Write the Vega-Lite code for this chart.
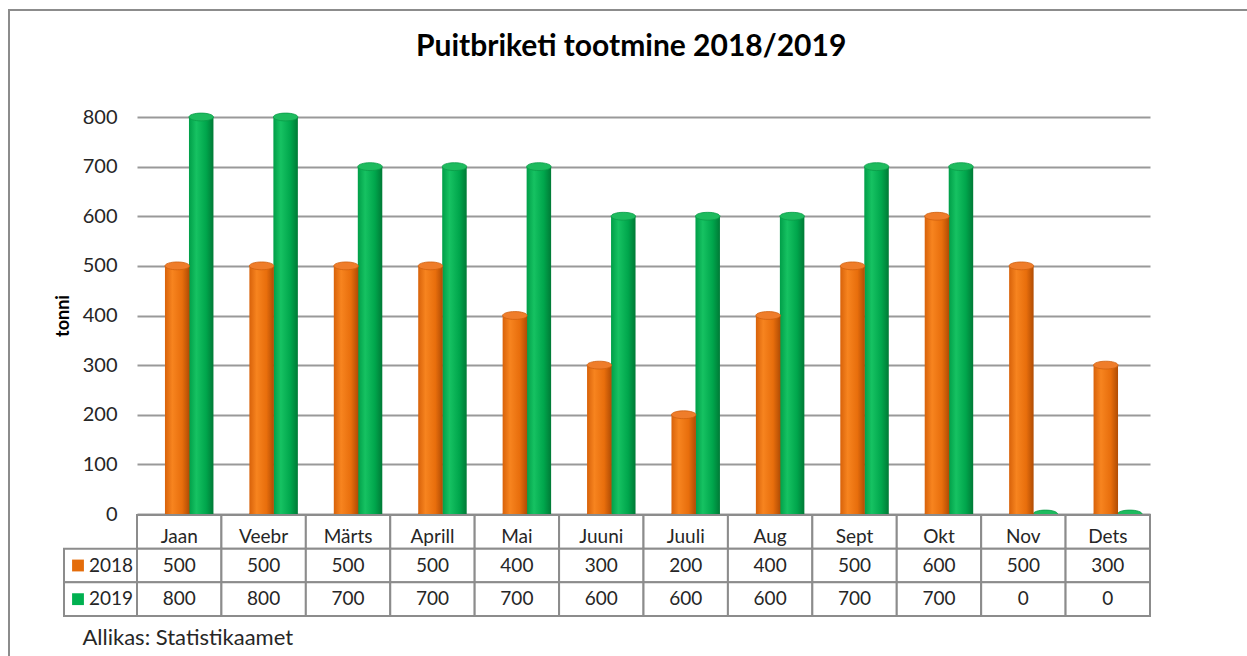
{
  "$schema": "https://vega.github.io/schema/vega-lite/v6.json",
  "width": 1300,
  "height": 700,
  "autosize": "none",
  "padding": {"left": 9, "top": 10, "right": -62, "bottom": -54},
  "config": {"view": {"stroke": "#8c8c8c", "strokeWidth": 2}, "background": "white"},
  "title": {"text": "Puitbriketi tootmine 2018/2019", "font": "Lato", "fontSize": 30, "fontWeight": "bold", "color": "#000000", "anchor": "start", "frame": "group", "offset": -76, "baseline": "alphabetic", "dx": 407},
  "data": {"values": [
    {"month": "Jaan", "year": "2018", "value": 500},
    {"month": "Veebr", "year": "2018", "value": 500},
    {"month": "Märts", "year": "2018", "value": 500},
    {"month": "Aprill", "year": "2018", "value": 500},
    {"month": "Mai", "year": "2018", "value": 400},
    {"month": "Juuni", "year": "2018", "value": 300},
    {"month": "Juuli", "year": "2018", "value": 200},
    {"month": "Aug", "year": "2018", "value": 400},
    {"month": "Sept", "year": "2018", "value": 500},
    {"month": "Okt", "year": "2018", "value": 600},
    {"month": "Nov", "year": "2018", "value": 500},
    {"month": "Dets", "year": "2018", "value": 300},
    {"month": "Jaan", "year": "2019", "value": 800},
    {"month": "Veebr", "year": "2019", "value": 800},
    {"month": "Märts", "year": "2019", "value": 700},
    {"month": "Aprill", "year": "2019", "value": 700},
    {"month": "Mai", "year": "2019", "value": 700},
    {"month": "Juuni", "year": "2019", "value": 600},
    {"month": "Juuli", "year": "2019", "value": 600},
    {"month": "Aug", "year": "2019", "value": 600},
    {"month": "Sept", "year": "2019", "value": 700},
    {"month": "Okt", "year": "2019", "value": 700},
    {"month": "Nov", "year": "2019", "value": 0},
    {"month": "Dets", "year": "2019", "value": 0}
  ]},
  "resolve": {"scale": {"x": "independent", "y": "independent", "color": "independent"}, "axis": {"x": "independent", "y": "independent"}},
  "layer": [
    {
      "transform": [{"filter": "datum.year === '2019'"}],
      "mark": {"type": "bar", "width": {"band": 0.29}, "xOffset": 22, "stroke": null,
        "fill": {"gradient": "linear", "x1": 0, "x2": 1, "y1": 0, "y2": 0, "stops": [
          {"offset": 0, "color": "#009e48"}, {"offset": 0.3, "color": "#16c262"}, {"offset": 0.7, "color": "#00a64c"}, {"offset": 1, "color": "#007a36"}]}},
      "encoding": {
        "x": {"field": "month", "type": "nominal", "axis": null, "scale": {"type": "band", "domain": ["Jaan","Veebr","Märts","Aprill","Mai","Juuni","Juuli","Aug","Sept","Okt","Nov","Dets"], "range": [128, 1141], "paddingInner": 0, "paddingOuter": 0}},
        "y": {"field": "value", "type": "quantitative", "scale": {"domain": [0, 800], "range": [504, 107], "nice": false, "zero": true},
          "axis": {"orient": "left", "offset": -128, "values": [0,100,200,300,400,500,600,700,800], "grid": true, "gridColor": "#999999", "gridWidth": 2, "domain": false, "ticks": false, "labelFont": "Lato", "labelFontSize": 20, "labelColor": "#262626", "labelPadding": 20, "title": "tonni", "titleFont": "Lato", "titleFontSize": 18, "titleFontWeight": "bold", "titleColor": "#000000", "titlePadding": 10}}
      }
    },
    {
      "transform": [{"filter": "datum.year === '2019'"}],
      "mark": {"type": "point", "shape": "M-1,0A1,0.32,0,1,0,1,0A1,0.32,0,1,0,-1,0Z", "size": 600, "filled": true, "fill": "#1dbb5e", "stroke": "#0a9a48", "strokeWidth": 0.8, "opacity": 1, "xOffset": 22},
      "encoding": {
        "x": {"field": "month", "type": "nominal", "axis": null, "scale": {"type": "band", "domain": ["Jaan","Veebr","Märts","Aprill","Mai","Juuni","Juuli","Aug","Sept","Okt","Nov","Dets"], "range": [128, 1141], "paddingInner": 0, "paddingOuter": 0}},
        "y": {"field": "value", "type": "quantitative", "axis": null, "scale": {"domain": [0, 800], "range": [504, 107], "nice": false, "zero": true}}
      }
    },
    {
      "transform": [{"filter": "datum.year === '2018'"}],
      "mark": {"type": "point", "shape": "M-1,0A1,0.32,0,1,0,1,0A1,0.32,0,1,0,-1,0Z", "size": 600, "filled": true, "fill": "#e0680c", "opacity": 1, "xOffset": -2},
      "encoding": {
        "x": {"field": "month", "type": "nominal", "axis": null, "scale": {"type": "band", "domain": ["Jaan","Veebr","Märts","Aprill","Mai","Juuni","Juuli","Aug","Sept","Okt","Nov","Dets"], "range": [128, 1141], "paddingInner": 0, "paddingOuter": 0}},
        "y": {"datum": 0, "type": "quantitative", "axis": null, "scale": {"domain": [0, 800], "range": [504, 107], "nice": false, "zero": true}}
      }
    },
    {
      "transform": [{"filter": "datum.year === '2018'"}],
      "mark": {"type": "bar", "width": {"band": 0.29}, "xOffset": -2, "stroke": null,
        "fill": {"gradient": "linear", "x1": 0, "x2": 1, "y1": 0, "y2": 0, "stops": [
          {"offset": 0, "color": "#d8620a"}, {"offset": 0.3, "color": "#f7841f"}, {"offset": 0.7, "color": "#e86e0c"}, {"offset": 1, "color": "#b04c04"}]}},
      "encoding": {
        "x": {"field": "month", "type": "nominal", "axis": null, "scale": {"type": "band", "domain": ["Jaan","Veebr","Märts","Aprill","Mai","Juuni","Juuli","Aug","Sept","Okt","Nov","Dets"], "range": [128, 1141], "paddingInner": 0, "paddingOuter": 0}},
        "y": {"field": "value", "type": "quantitative", "axis": null, "scale": {"domain": [0, 800], "range": [504, 107], "nice": false, "zero": true}}
      }
    },
    {
      "transform": [{"filter": "datum.year === '2018'"}],
      "mark": {"type": "point", "shape": "M-1,0A1,0.32,0,1,0,1,0A1,0.32,0,1,0,-1,0Z", "size": 600, "filled": true, "fill": "#ef7d2a", "stroke": "#cf600e", "strokeWidth": 0.8, "opacity": 1, "xOffset": -2},
      "encoding": {
        "x": {"field": "month", "type": "nominal", "axis": null, "scale": {"type": "band", "domain": ["Jaan","Veebr","Märts","Aprill","Mai","Juuni","Juuli","Aug","Sept","Okt","Nov","Dets"], "range": [128, 1141], "paddingInner": 0, "paddingOuter": 0}},
        "y": {"field": "value", "type": "quantitative", "axis": null, "scale": {"domain": [0, 800], "range": [504, 107], "nice": false, "zero": true}}
      }
    },
    {
      "transform": [{"filter": "datum.year === '2018'"}],
      "mark": {"type": "rect", "fill": "white", "stroke": "#8c8c8c", "strokeWidth": 2},
      "encoding": {
        "x": {"field": "month", "type": "nominal", "axis": null, "scale": {"type": "band", "domain": ["Jaan","Veebr","Märts","Aprill","Mai","Juuni","Juuli","Aug","Sept","Okt","Nov","Dets"], "range": [128, 1141], "paddingInner": 0, "paddingOuter": 0}},
        "y": {"datum": "m", "type": "nominal", "axis": null, "scale": {"type": "band", "domain": ["m", "2018", "2019"], "range": [505, 606], "paddingInner": 0, "paddingOuter": 0}}
      }
    },
    {
      "mark": {"type": "rect", "fill": "white", "stroke": "#8c8c8c", "strokeWidth": 2},
      "encoding": {
        "x": {"field": "month", "type": "nominal", "axis": null, "scale": {"type": "band", "domain": ["Jaan","Veebr","Märts","Aprill","Mai","Juuni","Juuli","Aug","Sept","Okt","Nov","Dets"], "range": [128, 1141], "paddingInner": 0, "paddingOuter": 0}},
        "y": {"field": "year", "type": "nominal", "axis": null, "scale": {"type": "band", "domain": ["m", "2018", "2019"], "range": [505, 606], "paddingInner": 0, "paddingOuter": 0}}
      }
    },
    {
      "transform": [{"filter": "datum.month === 'Jaan'"}],
      "mark": {"type": "rect", "fill": "white", "stroke": "#8c8c8c", "strokeWidth": 2},
      "encoding": {
        "x": {"datum": "L", "type": "nominal", "scale": {"type": "band", "domain": ["L"], "range": [55, 128], "paddingInner": 0, "paddingOuter": 0},
          "axis": {"orient": "bottom", "offset": -49, "labels": false, "ticks": false, "domain": false, "grid": false, "title": "Allikas: Statistikaamet", "titleAnchor": "start", "titleAlign": "left", "titleX": 73, "titleY": -17, "titleBaseline": "alphabetic", "titleFont": "Lato", "titleFontSize": 22, "titleFontWeight": "normal", "titleColor": "#262626"}},
        "y": {"field": "year", "type": "nominal", "axis": null, "scale": {"type": "band", "domain": ["m", "2018", "2019"], "range": [505, 606], "paddingInner": 0, "paddingOuter": 0}}
      }
    },
    {
      "transform": [{"filter": "datum.month === 'Jaan'"}],
      "mark": {"type": "point", "shape": "square", "size": 140, "filled": true, "opacity": 1, "xOffset": -22.5},
      "encoding": {
        "x": {"datum": "L", "type": "nominal", "axis": null, "scale": {"type": "band", "domain": ["L"], "range": [55, 128], "paddingInner": 0, "paddingOuter": 0}},
        "y": {"field": "year", "type": "nominal", "axis": null, "scale": {"type": "band", "domain": ["m", "2018", "2019"], "range": [505, 606], "paddingInner": 0, "paddingOuter": 0}},
        "color": {"field": "year", "type": "nominal", "legend": null, "scale": {"domain": ["2018", "2019"], "range": ["#e46c0a", "#00b050"]}}
      }
    },
    {
      "transform": [{"filter": "datum.month === 'Jaan'"}],
      "mark": {"type": "text", "font": "Lato", "fontSize": 19, "color": "#262626", "xOffset": 10.5, "baseline": "middle"},
      "encoding": {
        "x": {"datum": "L", "type": "nominal", "axis": null, "scale": {"type": "band", "domain": ["L"], "range": [55, 128], "paddingInner": 0, "paddingOuter": 0}},
        "y": {"field": "year", "type": "nominal", "axis": null, "scale": {"type": "band", "domain": ["m", "2018", "2019"], "range": [505, 606], "paddingInner": 0, "paddingOuter": 0}},
        "text": {"field": "year"}
      }
    },
    {
      "mark": {"type": "text", "font": "Lato", "fontSize": 19, "color": "#262626", "baseline": "middle"},
      "encoding": {
        "x": {"field": "month", "type": "nominal", "axis": null, "scale": {"type": "band", "domain": ["Jaan","Veebr","Märts","Aprill","Mai","Juuni","Juuli","Aug","Sept","Okt","Nov","Dets"], "range": [128, 1141], "paddingInner": 0, "paddingOuter": 0}},
        "y": {"field": "year", "type": "nominal", "axis": null, "scale": {"type": "band", "domain": ["m", "2018", "2019"], "range": [505, 606], "paddingInner": 0, "paddingOuter": 0}},
        "text": {"field": "value", "type": "quantitative"}
      }
    },
    {
      "transform": [{"filter": "datum.year === '2018'"}],
      "mark": {"type": "text", "font": "Lato", "fontSize": 19, "color": "#262626", "baseline": "middle", "dy": 5},
      "encoding": {
        "x": {"field": "month", "type": "nominal", "axis": null, "scale": {"type": "band", "domain": ["Jaan","Veebr","Märts","Aprill","Mai","Juuni","Juuli","Aug","Sept","Okt","Nov","Dets"], "range": [128, 1141], "paddingInner": 0, "paddingOuter": 0}},
        "y": {"datum": "m", "type": "nominal", "axis": null, "scale": {"type": "band", "domain": ["m", "2018", "2019"], "range": [505, 606], "paddingInner": 0, "paddingOuter": 0}},
        "text": {"field": "month"}
      }
    }
  ]
}
